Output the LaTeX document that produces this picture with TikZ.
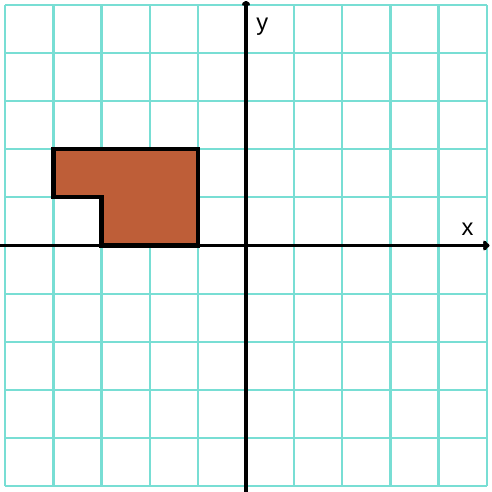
\documentclass[tikz,border=0pt]{standalone}
\usepackage{fontspec}
\setmainfont{Liberation Sans}
\usetikzlibrary{arrows.meta}
\definecolor{gridc}{RGB}{120,222,212}
\definecolor{shapec}{RGB}{190,94,56}
\begin{document}
\begin{tikzpicture}[x=1cm,y=1cm,
  gridline/.style={draw=gridc,line width=1.3pt},
  axis/.style={draw=black,line width=2.1pt,-{To[length=4pt,width=6pt]}},
  lbl/.style={font=\fontsize{14}{16}\selectfont,inner sep=0pt}]
\useasboundingbox (-5.11,-5.12) rectangle (5.09,5.10);
\fill[white] (-5.11,-5.12) rectangle (5.09,5.10);
\draw[gridline] (-5,-5) grid (5,5);
\filldraw[fill=shapec,draw=black,line width=2.5pt,line join=miter]
  (-4,2) -- (-1,2) -- (-1,0) -- (-3,0) -- (-3,1) -- (-4,1) -- cycle;
\coordinate (xs) at (-5.11,0);
\coordinate (xe) at (5.06,0);
\coordinate (ys) at (0,-5.12);
\coordinate (ye) at (0,5.08);
\draw[axis] (xs) -- (xe);
\draw[axis,-{To[length=3pt,width=5pt]}] (ys) -- (ye);
\node[lbl] (xl) at (4.6,0.33) {x};
\node[lbl] (yl) at (0.34,4.55) {y};
\end{tikzpicture}
\end{document}
